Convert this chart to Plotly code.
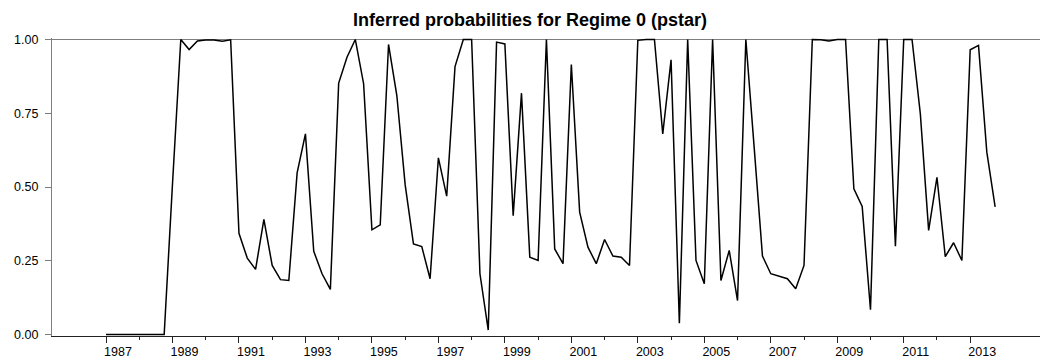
import numpy as np
import pandas as pd
import plotly.graph_objects as go

# Quarterly smoothed probabilities, 1987Q1 - 2013Q4
start_year = 1987
pstar = [
    0.0, 0.0, 0.0, 0.0, 0.0, 0.0, 0.0, 0.0,            # 1987-1988
    0.51, 1.0, 0.966, 0.995, 0.998, 0.998, 0.994, 0.999,  # 1989-1990
    0.343, 0.259, 0.221, 0.39, 0.234, 0.186, 0.183, 0.548,  # 1991-1992
    0.68, 0.282, 0.206, 0.153, 0.852, 0.94, 1.0, 0.85,      # 1993-1994
    0.355, 0.372, 0.983, 0.81, 0.508, 0.307, 0.298, 0.189,  # 1995-1996
    0.599, 0.469, 0.908, 1.0, 1.0, 0.206, 0.015, 0.991,     # 1997-1998
    0.985, 0.403, 0.818, 0.262, 0.251, 1.0, 0.29, 0.24,     # 1999-2000
    0.915, 0.415, 0.296, 0.24, 0.322, 0.266, 0.262, 0.234,  # 2001-2002
    0.997, 1.0, 1.0, 0.68, 0.931, 0.038, 1.0, 0.251,        # 2003-2004
    0.172, 1.0, 0.183, 0.285, 0.115, 1.0, 0.635, 0.266,     # 2005-2006
    0.206, 0.198, 0.189, 0.155, 0.234, 1.0, 0.999, 0.995,   # 2007-2008
    1.0, 1.0, 0.494, 0.434, 0.084, 1.0, 1.0, 0.299,         # 2009-2010
    1.0, 1.0, 0.748, 0.353, 0.533, 0.264, 0.311, 0.251,     # 2011-2012
    0.965, 0.98, 0.618, 0.433,                              # 2013
]
dates = [start_year + 0.25 * i for i in range(len(pstar))]

major_years = list(range(1987, 2014, 2))
minor_years = list(range(1988, 2013, 2))
y_ticks = [0.0, 0.25, 0.5, 0.75, 1.0]
y_labels = ["0.00", "0.25", "0.50", "0.75", "1.00"]

FONT = "Liberation Sans, Arial, sans-serif"

fig = go.Figure()
fig.add_trace(go.Scatter(
    x=dates, y=pstar, mode="lines",
    line=dict(color="#000000", width=1.5),
    showlegend=False, hoverinfo="x+y",
))

# grey frame line along the top of the plotting area
fig.add_shape(type="line", xref="paper", yref="y", x0=0, x1=1, y0=1, y1=1,
              line=dict(color="#7f7f7f", width=1.2), layer="below")

fig.update_layout(
    width=1040, height=361,
    margin=dict(l=52, r=0, t=38, b=25),
    paper_bgcolor="white", plot_bgcolor="white",
    font=dict(family=FONT, color="#000000", size=12.5),
    annotations=[dict(
        text="<b>Inferred probabilities for Regime 0 (pstar)</b>",
        xref="paper", yref="paper", x=(530 - 52) / 988, y=1.0,
        xanchor="center", yanchor="bottom", yshift=6, showarrow=False,
        font=dict(family=FONT, size=18, color="#000000"),
    )],
)

fig.update_xaxes(
    range=[1985.375, 2015.1], showgrid=False, zeroline=False,
    showline=True, linecolor="#222222", linewidth=1.2,
    tickmode="array", tickvals=major_years, ticktext=[str(y) for y in major_years],
    ticks="outside", ticklen=6, tickcolor="#222222", tickwidth=1,
    ticklabelshift=12, ticklabelstandoff=-2,
    tickfont=dict(family=FONT, size=12.5, color="#000000"),
    minor=dict(tickmode="array", tickvals=minor_years, ticks="outside",
               ticklen=3, tickcolor="#222222", tickwidth=1, showgrid=False),
)
fig.update_yaxes(
    range=[-0.005, 1.005], showgrid=False, zeroline=False,
    showline=True, linecolor="#7f7f7f", linewidth=1.2,
    tickmode="array", tickvals=y_ticks, ticktext=y_labels,
    ticks="outside", ticklen=6, tickcolor="#7f7f7f", tickwidth=1,
    ticklabelstandoff=4,
    tickfont=dict(family=FONT, size=12.5, color="#000000"),
)

fig.write_html("out.html")
